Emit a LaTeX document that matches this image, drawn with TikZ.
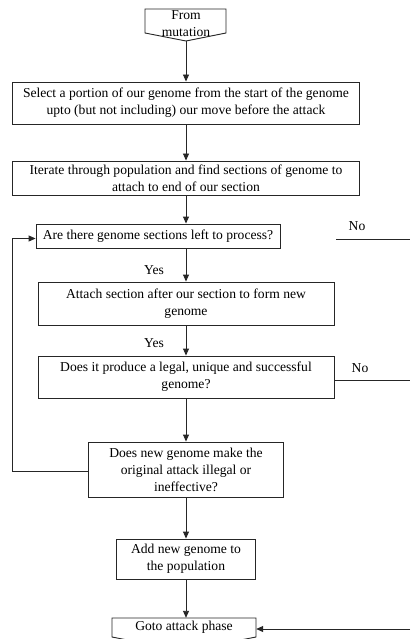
\documentclass[tikz,border=0pt]{standalone}
\usepackage{fontspec}
\setmainfont{Liberation Serif}
\usetikzlibrary{arrows.meta}
\tikzset{
  flow/.style={line width=0.9pt, draw=black!85},
  arr/.style={flow, -{Triangle[length=7pt,width=6pt]}},
  box/.style={draw=black!85, line width=0.9pt, inner sep=0pt, align=center,
              font=\fontsize{13.6}{17}\selectfont},
  lbl/.style={inner sep=0pt, font=\fontsize{13.6}{17}\selectfont},
}
\begin{document}
\begin{tikzpicture}[x=1pt,y=-1pt]
\clip (0,0) rectangle (410,639);
\fill[white] (0,0) rectangle (410,639);

% entry connector
\draw[flow] (145,9) -- (226,9) -- (226,33) -- (186,41) -- (145,33) -- cycle;
\node[lbl, align=center] (from) at (186,24) {From\\mutation};
\coordinate (fromtip) at (186,41);

% process steps
\node[box, minimum width=347pt, minimum height=42pt] (b1) at (186,103)
  {Select a portion of our genome from the start of the genome\\upto (but not including) our move before the attack};
\node[box, minimum width=347pt, minimum height=34pt] (b2) at (186,178)
  {Iterate through population and find sections of genome to\\attach to end of our section};
\node[box, minimum width=244pt, minimum height=24pt] (b3) at (158,236)
  {Are there genome sections left to process?};
\node[box, minimum width=296pt, minimum height=43pt] (b4) at (186,303.5)
  {Attach section after our section to form new\\genome};
\node[box, minimum width=296pt, minimum height=42pt] (b5) at (186,377)
  {Does it produce a legal, unique and successful\\genome?};
\node[box, minimum width=195pt, minimum height=55pt] (b6) at (186,469.5)
  {Does new genome make the\\original attack illegal or\\ineffective?};
\node[box, minimum width=139pt, minimum height=40pt] (b7) at (186,559)
  {Add new genome to\\the population};

% exit connector
\draw[flow] (112,618) -- (256,618) -- (256,637) -- (184,651) -- (112,637) -- cycle;
\node[lbl, minimum width=144pt, minimum height=19pt] (b8) at (184,627.5) {Goto attack phase};

% main flow
\draw[arr] (fromtip) -- (b1.north);
\draw[arr] (b1.south) -- (b2.north);
\draw[arr] (b2.south) -- (b2.south |- b3.north);
\draw[arr] (b4.north |- b3.south) -- (b4.north);
\node[lbl] (yes1) at (154,270) {Yes};
\draw[arr] (b4.south) -- (b5.north);
\node[lbl] (yes2) at (154,343) {Yes};
\draw[arr] (b5.south) -- (b6.north);
\draw[arr] (b6.south) -- (b7.north);
\draw[arr] (b7.south) -- (b7.south |- b8.north);

% loop back to the section test
\coordinate (loopx) at (12,0);
\draw[arr] ([yshift=-1.5pt]b6.west) -- ([yshift=-1.5pt]b6.west -| loopx)
  |- ([yshift=-2.5pt]b3.west);

% "No" exits
\coordinate (no1a) at (336,239);
\coordinate (no1b) at (410,239);
\draw[flow] (no1a) -- (no1b);
\node[lbl] (no1) at (357,226) {No};
\coordinate (no2b) at (410,380);
\draw[flow] ([yshift=-3pt]b5.east) -- (no2b);
\node[lbl] (no2) at (360,368) {No};
\coordinate (backin) at (410,629);
\draw[arr] (backin) -- (backin -| b8.east);
\end{tikzpicture}
\end{document}
